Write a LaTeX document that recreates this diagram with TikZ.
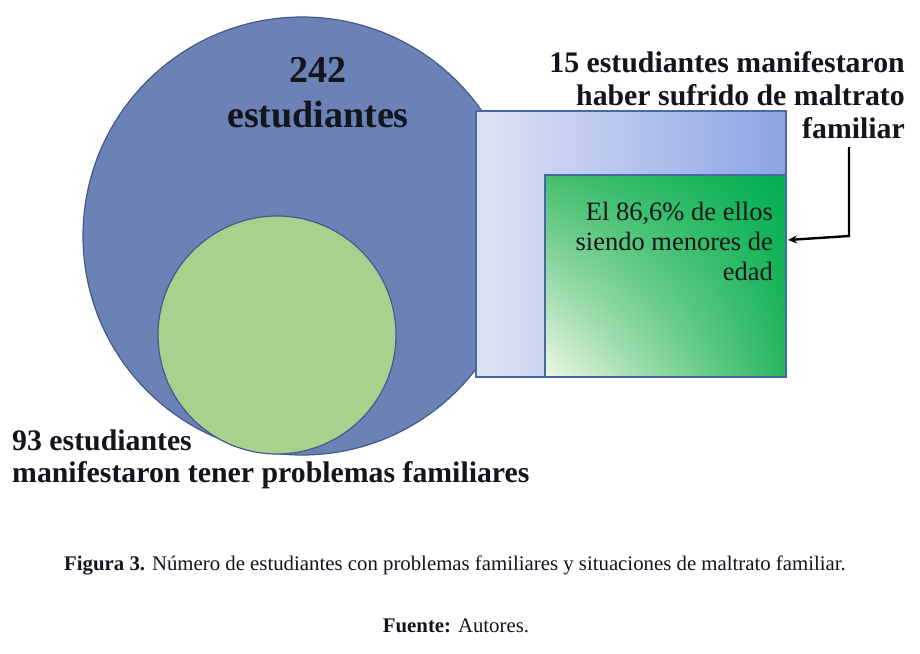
\documentclass[tikz,border=0pt]{standalone}
\usepackage{fontspec}
\setmainfont{Liberation Serif}
\usetikzlibrary{arrows.meta,shadings}
\definecolor{bigfill}{RGB}{106,130,181}
\definecolor{bigedge}{RGB}{66,90,140}
\definecolor{smallfill}{RGB}{169,209,142}
\definecolor{rectedge}{RGB}{72,104,165}
\definecolor{rectlight}{RGB}{222,227,245}
\definecolor{rectdark}{RGB}{140,164,228}
\definecolor{gdark}{RGB}{0,176,80}
\definecolor{gmid}{RGB}{70,190,110}
\definecolor{gmidb}{RGB}{40,182,95}
\definecolor{glight}{RGB}{240,248,228}
\definecolor{txt}{RGB}{20,20,28}
\tikzset{
  bigtxt/.style={font=\fontsize{38}{45}\selectfont\bfseries, text=txt, inner sep=0pt, anchor=base},
  labtxt/.style={font=\fontsize{29.8}{33}\selectfont\bfseries, text=txt, inner sep=0pt},
  grtxt/.style={font=\fontsize{26.5}{30}\selectfont, text=txt, inner sep=0pt, anchor=base east},
  captxt/.style={font=\fontsize{20.8}{24}\selectfont, text=txt, inner sep=0pt, anchor=base},
  connector/.style={line width=2.4pt, black, -{Stealth[length=9pt,width=8pt]}}
}
\begin{document}
\begin{tikzpicture}[x=1pt,y=-1pt]
\useasboundingbox (0,0) rectangle (920,653);
\fill[white] (0,0) rectangle (920,653);
% big circle
\draw[fill=bigfill, draw=bigedge, line width=1.2pt] (302,236) circle[radius=219];
% small circle
\draw[fill=smallfill, draw=bigedge, line width=1.2pt] (277,335) circle[radius=119];
% outer rectangle
\shade[left color=rectlight, right color=rectdark] (476,111) rectangle (786,377);
\draw[rectedge, line width=1.2pt] (476,111) rectangle (786,377);
% green rectangle
\shade[lower left=glight, upper right=gdark, upper left=gmid, lower right=gmidb] (545,175) rectangle (786,377);
\draw[rectedge, line width=1.2pt] (545,175) rectangle (786,377);
\node[draw=none, minimum width=241pt, minimum height=202pt, inner sep=0pt] (green) at (665.5,276) {};
% texts
\node[bigtxt] (n242) at (318,82) {242};
\node[bigtxt] (nest) at (318,127) {estudiantes};
\node[labtxt, anchor=base east] (t1) at (905,72) {15 estudiantes manifestaron};
\node[labtxt, anchor=base east] (t2) at (905,105) {haber sufrido de maltrato};
\node[labtxt, anchor=base east] (t3) at (905,138) {familiar};
\node[grtxt] (g1) at (773,220) {El 86,6\% de ellos};
\node[grtxt] (g2) at (773,250) {siendo menores de};
\node[grtxt] (g3) at (773,280) {edad};
\node[labtxt, anchor=base west] (b1) at (12,450) {93 estudiantes};
\node[labtxt, anchor=base west] (b2) at (12,482) {manifestaron tener problemas familiares};
\node[captxt] (cap) at (455,570) {\textbf{Figura 3.} Número de estudiantes con problemas familiares y situaciones de maltrato familiar.};
\node[captxt] (src) at (456,632) {\textbf{Fuente:} Autores.};
% connector
\coordinate (astart) at (849,147);
\coordinate (abend) at (849,236);
\coordinate (aend) at (788,240);
\draw[connector] (astart) -- (abend) -- (aend);
\end{tikzpicture}
\end{document}
